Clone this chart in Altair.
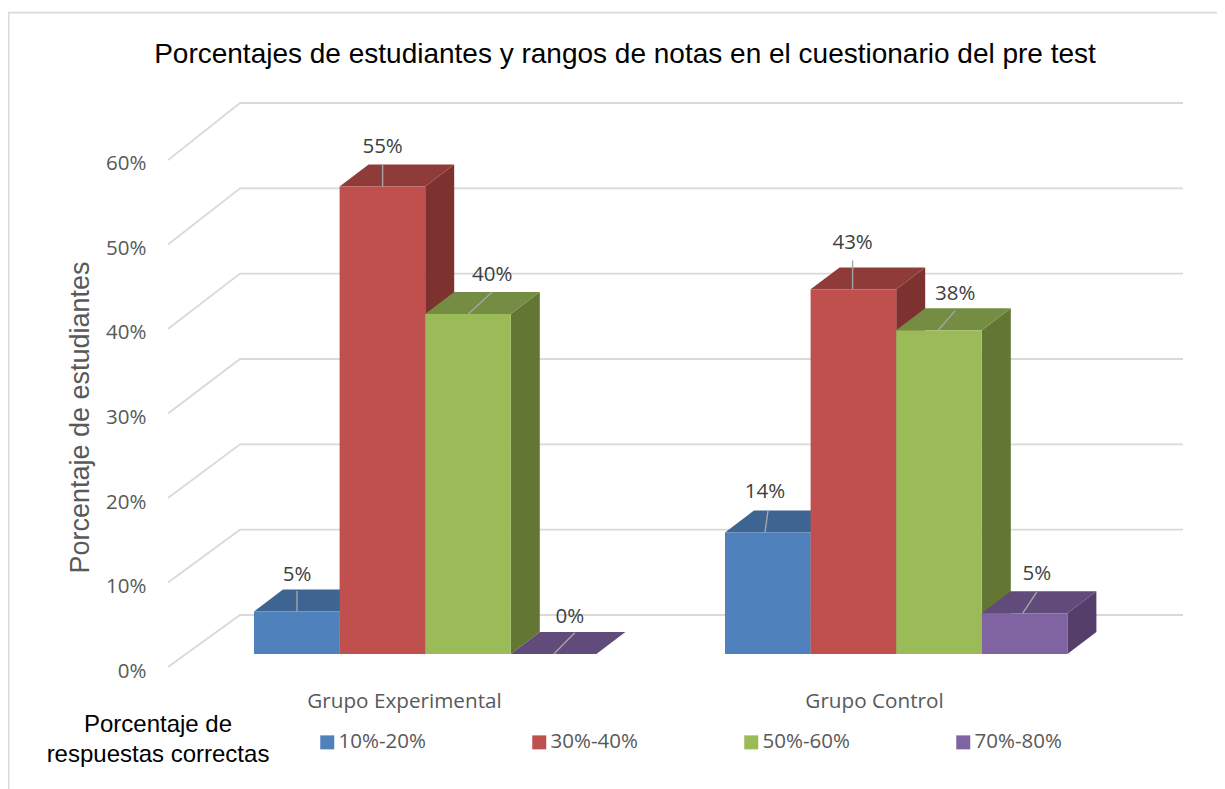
import altair as alt
import pandas as pd

groups = ["Grupo Experimental", "Grupo Control"]
series = ["10%-20%", "30%-40%", "50%-60%", "70%-80%"]
exp_values = [5.0, 55.0, 40.0, 0.0]
ctl_values = [14.3, 42.9, 38.1, 4.8]
front_colors = ["#4F81BD", "#C0504D", "#9BBB59", "#8064A2"]
top_colors = ["#3E6491", "#8F3B39", "#748D43", "#604B7B"]
side_colors = ["#355780", "#7E3230", "#647633", "#533F69"]
levels = [0, 10, 20, 30, 40, 50, 60]
title_text = "Porcentajes de estudiantes y rangos de notas en el cuestionario del pre test"
legend_heading = ["Porcentaje de", "respuestas correctas"]

# layout helpers (x scale runs in page-like units, y scale in percent)
X0, X1 = 150, 1190
Y_DOM = [-4.235, 65.18]
AX_DOM = [-2.18, 67.5]
group_start = [254, 725]
bar_w = 85.6
dx = 29
dy = 2.58
label_x = [404, 874]

# leader lines: x offset of base, x offset of end, end height, label lift, label x offset
leader = {
    (0, 0): (43, 43, 2.4, 1.9, 43), (0, 1): (43, 43, 2.6, 2.0, 43), (0, 2): (43, 67, 2.6, 2.0, 67), (0, 3): (43, 64, 2.5, 1.8, 59),
    (1, 0): (40, 43, 2.6, 2.2, 40), (1, 1): (42, 42, 3.4, 2.0, 42), (1, 2): (42, 59, 2.3, 2.0, 59), (1, 3): (41, 55, 2.5, 2.1, 55),
}

fronts, faces, rules, labels = [], [], [], []
for g, vals in enumerate([exp_values, ctl_values]):
    for s, v in enumerate(vals):
        l = group_start[g] + s * bar_w
        r = l + bar_w
        fronts.append(dict(l=l, r=r, v=v, base=0, s=series[s]))
        sid = f"{g}{s}"
        if v > 0:
            faces.append(dict(id="s" + sid, kind=0, c=side_colors[s], x=r, y=v, y2=0))
            faces.append(dict(id="s" + sid, kind=0, c=side_colors[s], x=r + dx, y=v + dy, y2=dy))
        for xx, a, b in [(l, v, v), (l + dx, v + dy, v), (r, v + dy, v), (r + dx, v + dy, v + dy)]:
            faces.append(dict(id="t" + sid, kind=1, c=top_colors[s], x=xx, y=a, y2=b))
        o0, o1, up, lift, lo = leader[(g, s)]
        rules.append(dict(x=l + o0, x2=l + o1, y=v, y2=v + up))
        labels.append(dict(x=l + lo, y=v + up + lift, t=f"{round(v)}%"))

front_df = pd.DataFrame(fronts)
face_df = pd.DataFrame(faces)
rule_df = pd.DataFrame(rules)
label_df = pd.DataFrame(labels)

grid = []
for lv in levels:
    grid.append(dict(lv=lv, o=0, x=168, y=-1.53 + lv * 0.994))
    grid.append(dict(lv=lv, o=1, x=240, y=4.59 + lv * 1.004))
    grid.append(dict(lv=lv, o=2, x=1183, y=4.59 + lv * 1.004))
grid_df = pd.DataFrame(grid)
axis_df = pd.DataFrame({"lv": levels})

xs = alt.Scale(domain=[X0, X1], range=[0, X1 - X0], nice=False, zero=False)
ys = alt.Scale(domain=Y_DOM, nice=False, zero=False)
ax_s = alt.Scale(domain=AX_DOM, nice=False, zero=False)
SANS = "Open Sans"
ARIAL = "Liberation Sans"

X = lambda f: alt.X(f, type="quantitative", scale=xs, axis=None)
Y = lambda f: alt.Y(f, type="quantitative", scale=ys, axis=None, stack=None)

grid_layer = alt.Chart(grid_df).mark_line(color="#D9D9D9", strokeWidth=1.8).encode(
    x=X("x"), y=Y("y"), detail="lv:N", order="o:Q")

face_layer_side = alt.Chart(face_df[face_df.kind == 0]).mark_area(opacity=1, interpolate="linear").encode(
    x=X("x"), y=Y("y"), y2="y2:Q", detail="id:N", color=alt.Color("c:N", scale=None))
face_layer_top = alt.Chart(face_df[face_df.kind == 1]).mark_area(opacity=1, interpolate="linear").encode(
    x=X("x"), y=Y("y"), y2="y2:Q", detail="id:N", color=alt.Color("c:N", scale=None))

expr = "datum.value==%d?'%s':'%s'" % (label_x[0], groups[0], groups[1])
front_layer = alt.Chart(front_df).mark_rect(strokeWidth=0).encode(
    x=alt.X("l:Q", scale=xs, axis=alt.Axis(
        values=label_x, labelExpr=expr, title=None, domain=False, ticks=False, grid=False,
        labelFont=SANS, labelFontSize=20.7, labelColor="#595959", labelPadding=1, labelOverlap=False,
        labelFlush=False, labelLimit=400)),
    x2="r:Q",
    y=Y("v"), y2="base:Q",
    fill=alt.Fill("s:N", scale=alt.Scale(domain=series, range=front_colors), legend=alt.Legend(
        orient="none", legendX=167, legendY=632, columns=4, direction="horizontal", title=None, padding=0,
        symbolType="square", symbolSize=196, symbolStrokeWidth=0, labelFont=SANS, labelFontSize=20.5,
        labelColor="#595959", labelOffset=1, columnPadding=103, labelLimit=200, gridAlign="all",
        symbolOpacity=1)),
)

rule_layer = alt.Chart(rule_df).mark_rule(color="#A6A6A6", strokeWidth=1.4).encode(
    x=X("x"), x2="x2:Q", y=Y("y"), y2="y2:Q")
text_layer = alt.Chart(label_df).mark_text(font=SANS, fontSize=20.5, color="#404040", baseline="middle").encode(
    x=X("x"), y=Y("y"), text="t:N")

axis_layer = alt.Chart(axis_df).mark_point(opacity=0).encode(
    y=alt.Y("lv:Q", scale=ax_s, axis=alt.Axis(
        values=levels, labelExpr="datum.value+'%'", title="Porcentaje de estudiantes",
        domain=False, ticks=False, grid=False, labelFont=SANS, labelFontSize=20.5, labelColor="#595959",
        labelPadding=4, titleFont=ARIAL, titleFontSize=27, titleFontWeight="normal", titleColor="#595959",
        titlePadding=11, titleY=317)))

border_df = pd.DataFrame({"x": [8.5, 8.5, 1222], "y": [-16, (654 - 12.5) / 8.5, (654 - 12.5) / 8.5], "o": [0, 1, 2]})
border = alt.Chart(border_df).mark_line(color="#D9D9D9", strokeWidth=1.8, clip=False).encode(
    x=X("x"), y=Y("y"), order="o:Q")

title_df = pd.DataFrame({"x": [625], "y": [(654 - 54.5) / 8.5], "t": [title_text]})
title_layer = alt.Chart(title_df).mark_text(font=ARIAL, fontSize=28, color="#000000", baseline="middle").encode(
    x=X("x"), y=Y("y"), text="t:N")
heading_df = pd.DataFrame({"x": [158, 158], "y": [(654 - 725) / 8.5, (654 - 755) / 8.5], "t": legend_heading})
heading_layer = alt.Chart(heading_df).mark_text(font=ARIAL, fontSize=24, color="#000000", baseline="middle").encode(
    x=X("x"), y=Y("y"), text="t:N")

chart = alt.layer(border, grid_layer, face_layer_side, face_layer_top, front_layer, rule_layer, text_layer,
                  title_layer, heading_layer, axis_layer).resolve_scale(
    y="independent", x="shared"
).resolve_axis(x="independent").properties(
    width=X1 - X0, height=590,
    padding={"left": 142, "top": 92, "right": 27, "bottom": 99},
    autosize=alt.AutoSizeParams(type="none"),
    background="white",
).configure_view(stroke=None)

chart.save("out.html", embed_options={"renderer": "svg", "actions": False})
